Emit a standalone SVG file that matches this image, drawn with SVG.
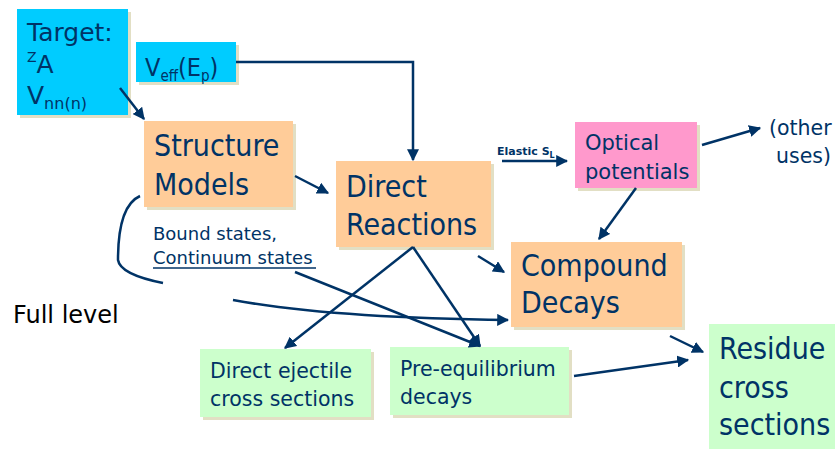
<svg xmlns="http://www.w3.org/2000/svg" width="835" height="449" viewBox="0 0 835 449">
<defs>
<style>
.t{font-family:"DejaVu Sans Condensed","DejaVu Sans",sans-serif;font-stretch:condensed;fill:#003366}
.s{font-family:"DejaVu Sans",sans-serif;fill:#003366}
.sh{fill:#e2dfc4}
.c{fill:none;stroke:#003366;stroke-width:2.5}
</style>
<marker id="a" viewBox="0 0 10 10" refX="9" refY="5" markerWidth="4.8" markerHeight="4.8" orient="auto" markerUnits="strokeWidth">
<path d="M0,0 L10,5 L0,10 z" fill="#003366"/>
</marker>
</defs>
<rect width="835" height="449" fill="#fff"/>

<g id="target">
<rect class="sh" x="20" y="12" width="111" height="106"/>
<rect x="17" y="9" width="111" height="106" fill="#00ccff"/>
<text class="s" x="27" y="41" font-size="25">Target:</text>
<text class="s" x="27" y="73" font-size="25"><tspan font-size="14" dy="-11">Z</tspan><tspan dy="11">A</tspan></text>
<text class="s" x="27" y="104" font-size="25">V<tspan font-size="16" dy="5">nn(n)</tspan></text>
</g>

<g id="veff">
<rect class="sh" x="139" y="45" width="100" height="40"/>
<rect x="136" y="42" width="100" height="40" fill="#00ccff"/>
<text class="t" x="145" y="76" font-size="25">V<tspan font-size="15" dy="5">eff</tspan><tspan dy="-5">(E</tspan><tspan font-size="15" dy="5">p</tspan><tspan dy="-5">)</tspan></text>
</g>

<g id="structure">
<rect class="sh" x="147" y="124" width="149" height="86"/>
<rect x="144" y="121" width="149" height="86" fill="#ffcc99"/>
<text class="t" x="154" y="156" font-size="30">Structure</text>
<text class="t" x="154" y="195" font-size="30">Models</text>
</g>

<g id="direct">
<rect class="sh" x="339" y="164" width="155" height="86"/>
<rect x="336" y="161" width="155" height="86" fill="#ffcc99"/>
<text class="t" x="346" y="197" font-size="30">Direct</text>
<text class="t" x="346" y="235" font-size="30">Reactions</text>
</g>

<g id="optical">
<rect class="sh" x="578" y="125" width="122" height="66"/>
<rect x="575" y="122" width="122" height="66" fill="#ff99cc"/>
<text class="s" x="585" y="150" font-size="21">Optical</text>
<text class="s" x="585" y="179" font-size="21">potentials</text>
</g>

<g id="compound">
<rect class="sh" x="514" y="245" width="171" height="85"/>
<rect x="511" y="242" width="171" height="85" fill="#ffcc99"/>
<text class="t" x="521" y="276" font-size="30">Compound</text>
<text class="t" x="521" y="313" font-size="30">Decays</text>
</g>

<g id="ejectile">
<rect class="sh" x="203" y="352" width="171" height="68"/>
<rect x="200" y="349" width="171" height="68" fill="#ccffcc"/>
<text class="s" x="210" y="378" font-size="20.5">Direct ejectile</text>
<text class="s" x="210" y="406" font-size="20.5">cross sections</text>
</g>

<g id="preeq">
<rect class="sh" x="393" y="350" width="179" height="68"/>
<rect x="390" y="347" width="179" height="68" fill="#ccffcc"/>
<text class="s" x="400" y="376" font-size="20.5">Pre-equilibrium</text>
<text class="s" x="400" y="404" font-size="20.5">decays</text>
</g>

<g id="residue">
<rect x="709" y="324" width="130" height="126" fill="#ccffcc"/>
<text class="t" x="719" y="359" font-size="30">Residue</text>
<text class="t" x="719" y="398" font-size="30">cross</text>
<text class="t" x="719" y="435" font-size="30">sections</text>
</g>

<g id="labels">
<text class="s" x="153" y="240" font-size="18">Bound states,</text>
<text class="s" x="153" y="264" font-size="18">Continuum states</text>
<line x1="153" y1="268" x2="316" y2="268" stroke="#003366" stroke-width="1.5"/>
<text class="s" x="497" y="155" font-size="11" font-weight="bold">Elastic S<tspan font-size="8" dy="3">L</tspan></text>
<text class="s" x="769" y="135" font-size="20.5">(other</text>
<text class="s" x="776" y="163" font-size="20.5">uses)</text>
<text x="13" y="323" font-size="24" font-family="'DejaVu Sans',sans-serif" fill="#000">Full level</text>
</g>

<g id="connectors">
<path class="c" d="M236,62 H413 V160" marker-end="url(#a)"/>
<path class="c" d="M120,88 L144,119" marker-end="url(#a)"/>
<path class="c" d="M295,176 L328,193" marker-end="url(#a)"/>
<path class="c" d="M140,196 C122,204 118,235 118,260 C120,273 148,280 163,283"/>
<path class="c" d="M233,300 Q 330,318 508,320" marker-end="url(#a)"/>
<path class="c" d="M295,272 L480,346" marker-end="url(#a)"/>
<path class="c" d="M413,247 L480,346" marker-end="url(#a)"/>
<path class="c" d="M413,247 L285,348" marker-end="url(#a)"/>
<path class="c" d="M478,256 L504,272" marker-end="url(#a)"/>
<path class="c" d="M636,188 L599,239" marker-end="url(#a)"/>
<path class="c" d="M502,161 L567,161" marker-end="url(#a)"/>
<path class="c" d="M702,145 L760,128" marker-end="url(#a)"/>
<path class="c" d="M574,376 L688,360" marker-end="url(#a)"/>
<path class="c" d="M670,336 L703,352" marker-end="url(#a)"/>
</g>
</svg>
